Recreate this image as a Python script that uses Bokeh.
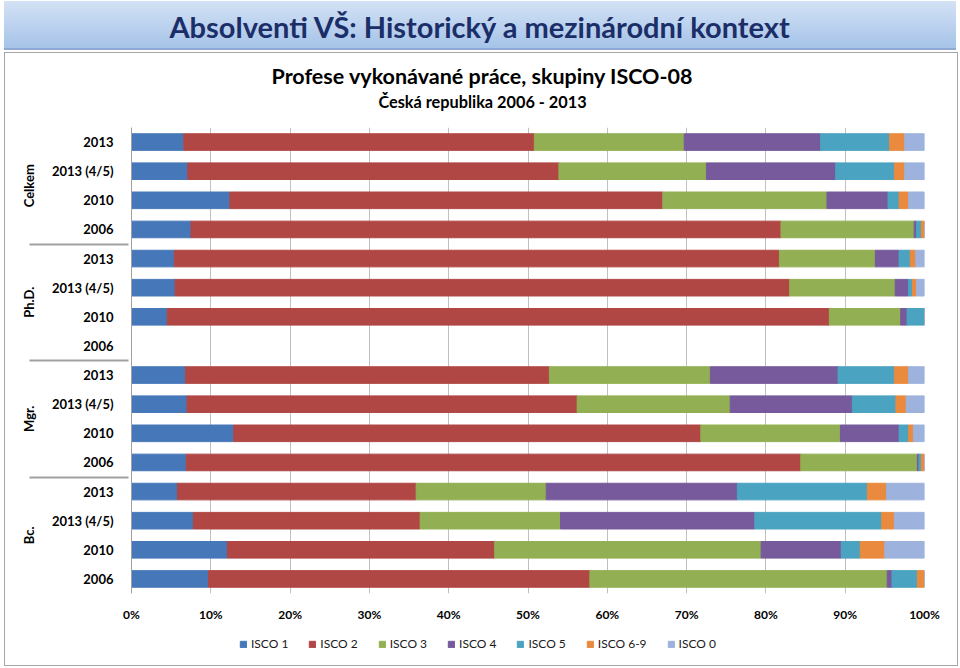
from bokeh.plotting import figure
from bokeh.models import (FactorRange, Range1d, FixedTicker, PrintfTickFormatter,
                          Legend, LegendItem, Label, ColumnDataSource)
from bokeh.layouts import column
from bokeh.embed import file_html
from bokeh.resources import INLINE

# ---------------- data (top-to-bottom row order) ----------------
groups = ["Celkem", "Ph.D.", "Mgr.", "Bc."]
periods = ["2013", "2013 (4/5)", "2010", "2006"]
series = ["ISCO 1", "ISCO 2", "ISCO 3", "ISCO 4", "ISCO 5", "ISCO 6-9", "ISCO 0"]

isco1 = [6.6, 7.1, 12.4, 7.5, 5.4, 5.5, 4.5, 0, 6.8, 7.0, 12.9, 6.9, 5.8, 7.8, 12.1, 9.7]
isco2 = [44.2, 46.8, 54.6, 74.4, 76.3, 77.5, 83.5, 0, 45.9, 49.2, 58.9, 77.5, 30.1, 28.6, 33.7, 48.1]
isco3 = [18.9, 18.6, 20.7, 16.8, 12.1, 13.3, 9.0, 0, 20.3, 19.3, 17.6, 14.7, 16.4, 17.7, 33.6, 37.5]
isco4 = [17.2, 16.3, 7.7, 0.3, 3.0, 1.7, 0.8, 0, 16.1, 15.4, 7.4, 0.2, 24.1, 24.5, 10.1, 0.6]
isco5 = [8.7, 7.4, 1.4, 0.6, 1.4, 0.5, 2.2, 0, 7.1, 5.5, 1.2, 0.3, 16.4, 16.0, 2.4, 3.2]
isco69 = [1.9, 1.3, 1.2, 0.4, 0.7, 0.5, 0.0, 0, 1.8, 1.3, 0.6, 0.4, 2.4, 1.6, 3.1, 0.9]
isco0 = [2.6, 2.5, 2.0, 0.0, 1.1, 1.0, 0.0, 0, 2.0, 2.3, 1.4, 0.0, 4.8, 3.8, 5.0, 0.0]

x_ticks = [0, 10, 20, 30, 40, 50, 60, 70, 80, 90, 100]

colors = ["#4678B9", "#B04744", "#92AF53", "#765A9B", "#4AA3C0", "#E98A3E", "#9DB2DD"]
FONT = "Lato"

# ---------------- build ----------------
rows = [(g, s) for g in groups for s in periods]
keys = ["s%d" % i for i in range(len(series))]
values = [isco1, isco2, isco3, isco4, isco5, isco69, isco0]
data = {"y": rows}
for k, v in zip(keys, values):
    data[k] = v
source = ColumnDataSource(data)

W = 952
BL, BR = 126, 33   # left / right borders (aligned frames)


def blank(height, **kw):
    f = figure(width=W, height=height, x_range=(0, 1), y_range=(0, 1),
               output_backend="svg", toolbar_location=None,
               min_border_left=BL, min_border_right=BR,
               min_border_top=0, min_border_bottom=0,
               outline_line_color=None, **kw)
    f.axis.visible = False
    f.grid.visible = False
    return f


# Banner
banner = blank(49, background_fill_alpha=0, border_fill_alpha=0,
               styles={"background": "linear-gradient(to bottom, #d3e2f5, #a6c3e8)",
                       "border-bottom": "2px solid #8faad6",
                       "box-sizing": "border-box"})
banner.add_layout(Label(x=350, y=24, x_units="screen", y_units="screen",
                        text="Absolventi VŠ: Historický a mezinárodní kontext",
                        text_font=FONT, text_font_style="bold", text_font_size="29px",
                        text_color="#1B2E68", text_align="center",
                        text_baseline="middle"))

# Chart titles
titles = blank(74)
titles.add_layout(Label(x=351, y=52, x_units="screen", y_units="screen",
                        text="Profese vykonávané práce, skupiny ISCO-08",
                        text_font=FONT, text_font_style="bold", text_font_size="21.5px",
                        text_color="black", text_align="center", text_baseline="middle"))
titles.add_layout(Label(x=351, y=26, x_units="screen", y_units="screen",
                        text="Česká republika 2006 - 2013",
                        text_font=FONT, text_font_style="bold", text_font_size="16.3px",
                        text_color="black", text_align="center", text_baseline="middle"))

# Main chart
yr = FactorRange(factors=list(reversed(rows)), group_padding=0, factor_padding=0,
                 range_padding=0)
p = figure(width=W, height=501, y_range=yr, x_range=Range1d(0, 100),
           output_backend="svg", toolbar_location=None,
           min_border_left=BL, min_border_right=BR, min_border_top=0,
           min_border_bottom=35, outline_line_color=None)

rs = p.hbar_stack(keys, y="y", height=0.57, source=source, color=colors)

p.xaxis.ticker = FixedTicker(ticks=x_ticks)
p.xaxis.formatter = PrintfTickFormatter(format="%d%%")
p.xaxis.axis_line_color = None
p.xaxis.major_tick_line_color = None
p.xaxis.minor_tick_line_color = None
p.xaxis.major_label_standoff = 7
p.xaxis.major_label_text_font = FONT
p.xaxis.major_label_text_font_style = "bold"
p.xaxis.major_label_text_font_size = "12px"
p.xaxis.major_label_text_color = "black"

p.yaxis.axis_line_color = "#a0a0a0"
p.yaxis.major_tick_line_color = None
p.yaxis.major_label_standoff = 12
p.yaxis.major_label_text_font = FONT
p.yaxis.major_label_text_font_style = "bold"
p.yaxis.major_label_text_font_size = "13px"
p.yaxis.major_label_text_color = "black"
p.yaxis.group_text_font = FONT
p.yaxis.group_text_font_style = "bold"
p.yaxis.group_text_font_size = "13px"
p.yaxis.group_text_color = "black"
p.yaxis.separator_line_color = "#a0a0a0"

p.xgrid.ticker = FixedTicker(ticks=x_ticks)
p.xgrid.grid_line_color = "#c0c0c0"
p.ygrid.grid_line_color = None

# Legend strip: one off-screen swatch renderer per series (only its legend glyph shows)
legfig = blank(37)
swatches = [legfig.quad(left=[0], right=[1], bottom=[-6], top=[-5], color=c)
            for c in colors]
legend = Legend(items=[LegendItem(label=s, renderers=[r]) for s, r in zip(series, swatches)],
                location=(108, 14), orientation="horizontal",
                label_text_font=FONT, label_text_font_size="12px",
                label_text_color="#1a1a1a",
                glyph_width=8, glyph_height=8, label_standoff=4, spacing=20,
                label_height=8,
                border_line_color=None, background_fill_alpha=0,
                padding=0, margin=0)
legfig.add_layout(legend)

panel = column(titles, p, legfig, spacing=0,
               styles={"border": "1px solid #a6a6a6"})
layout = column(banner, panel, spacing=2,
                styles={"margin-left": "4px", "margin-top": "1px"})
open("out.html", "w").write(file_html(layout, INLINE))
